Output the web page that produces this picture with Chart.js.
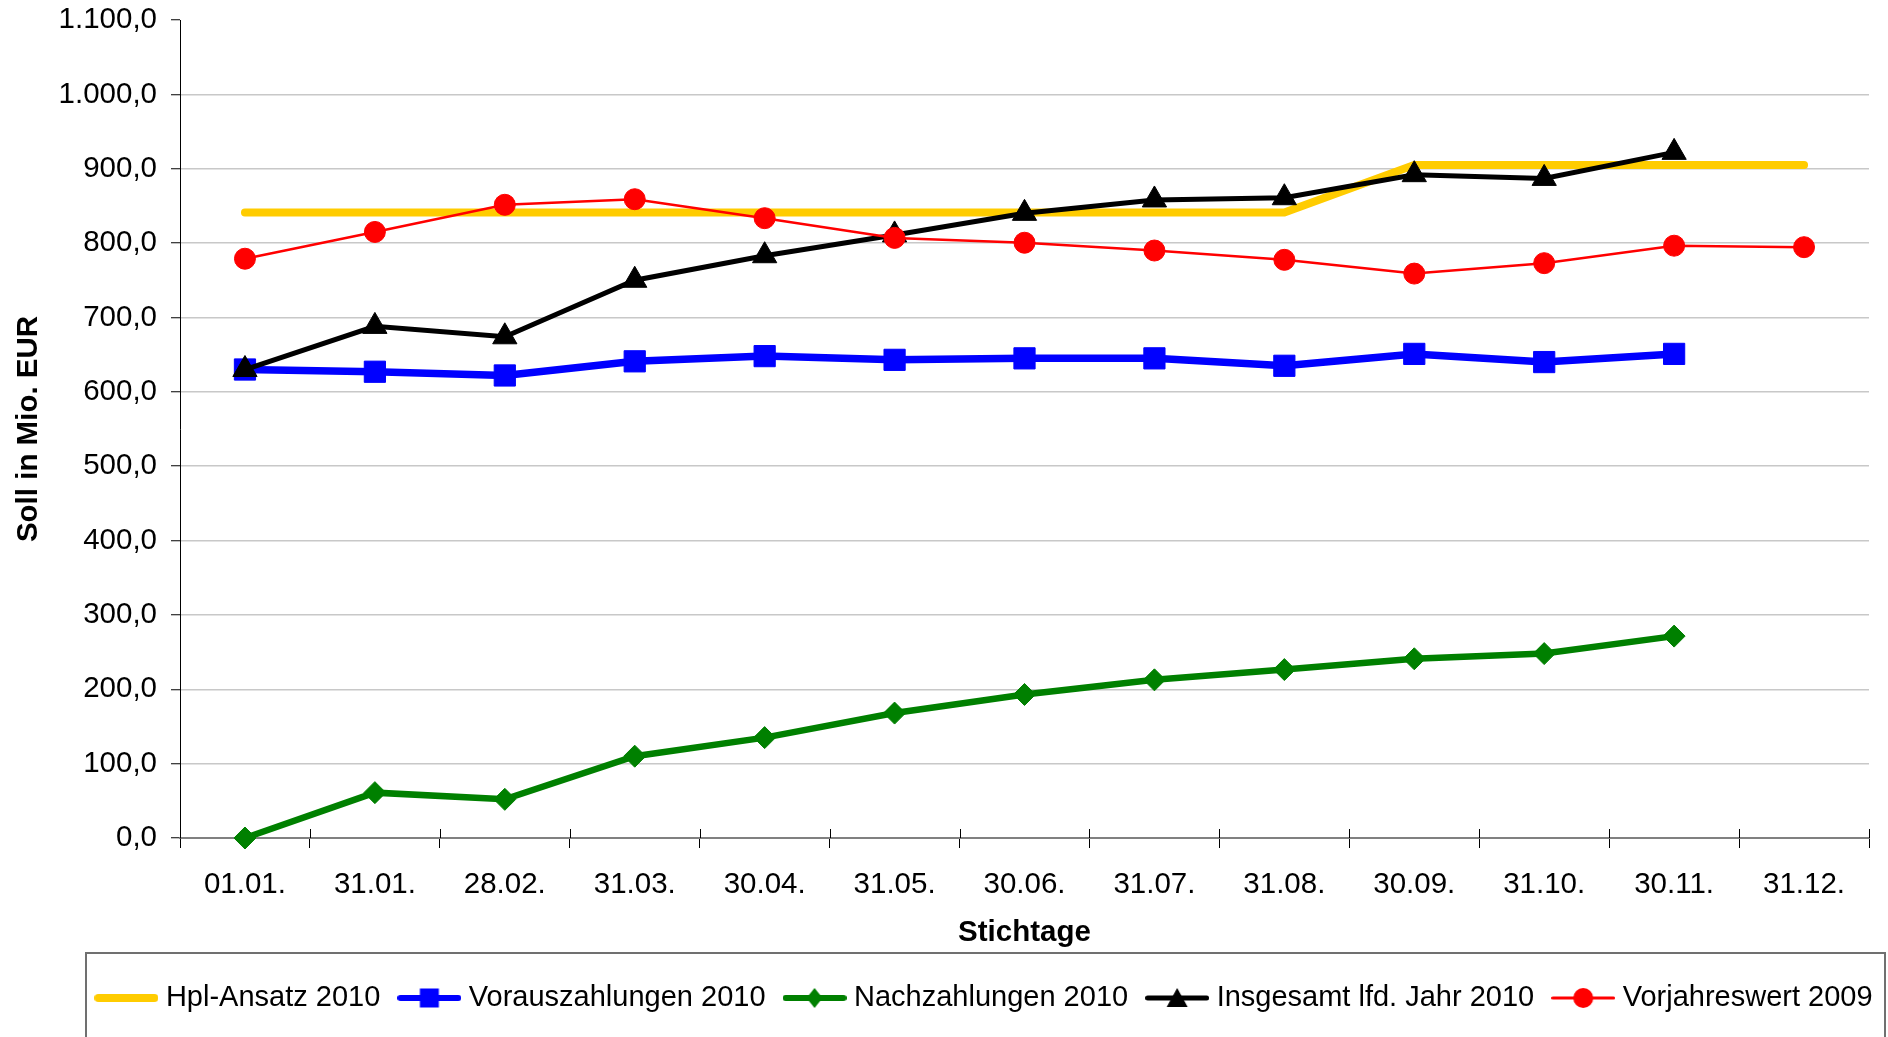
<!DOCTYPE html>
<html>
<head>
<meta charset="utf-8">
<script src="https://cdn.jsdelivr.net/npm/chart.js@4.4.1/dist/chart.umd.min.js"></script>
<style>
  html, body { margin: 0; padding: 0; background: #fff; }
  #wrap { width: 1888px; height: 1037px; position: relative; }
</style>
</head>
<body>
<div id="wrap"><canvas id="soll-chart"></canvas></div>
<script>
// Stichtage (x axis)
const stichtage = ['01.01.', '31.01.', '28.02.', '31.03.', '30.04.', '31.05.', '30.06.',
                   '31.07.', '31.08.', '30.09.', '31.10.', '30.11.', '31.12.'];

// Soll in Mio. EUR
const hplAnsatz       = [841, 841, 841, 841, 841, 841, 841, 841, 841, 905, 905, 905, 905];
const vorauszahlungen = [630, 627, 622, 641, 648, 643, 645, 645, 635, 651, 640, 651, null];
const nachzahlungen   = [0, 61, 52, 110, 135, 168, 193, 212.7, 226.5, 241, 248, 271.5, null];
const insgesamt       = [630, 688, 674, 750, 783, 811, 840, 858, 861, 892, 887, 922, null];
const vorjahreswert   = [779, 815, 851.5, 859, 833.5, 807, 800.5, 790, 777.5, 759, 773, 796.5, 794.5];

const yMin = 0, yMax = 1100, yStep = 100;

function deNum(v) {
  const parts = v.toFixed(1).split('.');
  return parts[0].replace(/\B(?=(\d{3})+(?!\d))/g, '.') + ',' + parts[1];
}

// legend symbol: short line with the marker in the middle (Excel style)
function makeSymbol(color, lw, marker) {
  const c = document.createElement('canvas');
  c.width = 64; c.height = 26;
  const g = c.getContext('2d');
  const cy = 13, cx = 32;
  g.strokeStyle = color; g.fillStyle = color;
  g.lineWidth = lw; g.lineCap = 'round';
  g.beginPath(); g.moveTo(lw / 2, cy); g.lineTo(64 - lw / 2, cy); g.stroke();
  g.beginPath();
  if (marker === 'rect') {
    g.rect(cx - 9.5, cy - 9.5, 19, 19);
  } else if (marker === 'diamond') {
    g.moveTo(cx, cy - 10); g.lineTo(cx + 8, cy); g.lineTo(cx, cy + 10); g.lineTo(cx - 8, cy);
  } else if (marker === 'triangle') {
    g.moveTo(cx, cy - 10); g.lineTo(cx + 10.5, cy + 9); g.lineTo(cx - 10.5, cy + 9);
  } else if (marker === 'circle') {
    g.arc(cx, cy, 10, 0, Math.PI * 2);
  }
  g.closePath();
  if (marker) g.fill();
  return c;
}

const legendSymbols = [
  makeSymbol('#ffcc00', 8, null),
  makeSymbol('#0000ff', 6, 'rect'),
  makeSymbol('#008000', 6, 'diamond'),
  makeSymbol('#000000', 5, 'triangle'),
  makeSymbol('#ff0000', 3, 'circle')
];

// legend frame spans x 86..1885; items are centred in it
const frameLeft = 86, frameRight = 1885;

const extras = {
  id: 'extras',
  afterLayout(chart) {
    const lg = chart.legend;
    // wide box around the frame centre, so the single row never wraps
    lg.left = 0; lg.right = frameLeft + frameRight + 3; lg.width = lg.right;
  },
  beforeDatasetsDraw(chart) {
    const xs = chart.scales.x, c = chart.ctx;
    const half = (xs.getPixelForValue(1) - xs.getPixelForValue(0)) / 2;
    c.save();
    c.strokeStyle = '#000'; c.lineWidth = 1;
    for (let i = 0; i <= stichtage.length; i++) {
      const x = Math.round(xs.getPixelForValue(i) - half) + 0.5;
      c.beginPath(); c.moveTo(x, xs.top - 9); c.lineTo(x, xs.top); c.stroke();
    }
    c.restore();
  },
  afterDraw(chart) {
    const lg = chart.legend, c = chart.ctx;
    c.save();
    c.strokeStyle = '#707070'; c.lineWidth = 2;
    c.strokeRect(frameLeft, lg.top - 6.5, frameRight - frameLeft, 200);
    c.restore();
  }
};

Chart.defaults.font.family = "'Liberation Sans', Arial, sans-serif";
Chart.defaults.font.size = 29.5;
Chart.defaults.color = '#000';

const ctx = document.getElementById('soll-chart').getContext('2d');

new Chart(ctx, {
  type: 'line',
  data: {
    labels: stichtage,
    datasets: [
      {
        label: 'Hpl-Ansatz 2010',
        data: hplAnsatz,
        borderColor: '#ffcc00',
        borderWidth: 8,
        borderCapStyle: 'round',
        pointRadius: 0,
        order: 5
      },
      {
        label: 'Vorauszahlungen 2010',
        data: vorauszahlungen,
        borderColor: '#0000ff',
        backgroundColor: '#0000ff',
        borderWidth: 7.5,
        pointStyle: 'rect',
        pointRadius: 15,
        pointBorderWidth: 1,
        order: 4
      },
      {
        label: 'Nachzahlungen 2010',
        data: nachzahlungen,
        borderColor: '#008000',
        backgroundColor: '#008000',
        borderWidth: 6.5,
        pointStyle: 'rectRot',
        pointRadius: 11,
        pointBorderWidth: 1,
        order: 3
      },
      {
        label: 'Insgesamt lfd. Jahr 2010',
        data: insgesamt,
        borderColor: '#000000',
        backgroundColor: '#000000',
        borderWidth: 5,
        pointStyle: 'triangle',
        pointRadius: 14,
        pointBorderWidth: 1,
        order: 2
      },
      {
        label: 'Vorjahreswert 2009',
        data: vorjahreswert,
        borderColor: '#ff0000',
        backgroundColor: '#ff0000',
        borderWidth: 2.5,
        pointStyle: 'circle',
        pointRadius: 10.5,
        pointBorderWidth: 1,
        order: 1
      }
    ]
  },
  options: {
    responsive: true,
    maintainAspectRatio: false,
    animation: false,
    events: [],
    clip: false,
    layout: { padding: { left: 0, top: 20, right: 19, bottom: 14.5 } },
    elements: { line: { tension: 0 } },
    scales: {
      x: {
        offset: true,
        afterFit: s => { s.height = 121.5; },
        grid: {
          offset: true,
          drawOnChartArea: false,
          color: '#000',
          lineWidth: 1,
          tickLength: 10
        },
        border: { color: '#808080', width: 2 },
        ticks: { padding: 19, maxRotation: 0, autoSkip: false },
        title: {
          display: true,
          text: 'Stichtage',
          font: { weight: 'bold' },
          padding: { top: 0, bottom: 9 }
        }
      },
      y: {
        min: yMin,
        max: yMax,
        afterFit: s => { s.width = 180; s.paddingTop = 0; s.paddingBottom = 0; },
        grid: {
          color: c => (c.tick.value === yMax || c.tick.value === yMin) ? 'rgba(0,0,0,0)' : '#c8c8c8',
          lineWidth: 1.5,
          tickColor: '#000',
          tickWidth: 1,
          tickLength: 9
        },
        border: { color: '#000', width: 1 },
        ticks: {
          stepSize: yStep,
          padding: 14,
          callback: v => deNum(v)
        },
        title: {
          display: true,
          text: 'Soll in Mio. EUR',
          font: { weight: 'bold' },
          padding: { top: 11, bottom: 0 }
        }
      }
    },
    plugins: {
      tooltip: { enabled: false },
      legend: {
        position: 'bottom',
        align: 'center',
        labels: {
          usePointStyle: true,
          pointStyleWidth: 50,
          padding: 24,
          color: '#000',
          font: { size: 29 },
          generateLabels: chart => chart.data.datasets.map((ds, i) => ({
            text: ds.label,
            pointStyle: legendSymbols[i],
            fillStyle: ds.borderColor,
            strokeStyle: ds.borderColor,
            lineWidth: 0,
            hidden: false,
            datasetIndex: i
          }))
        }
      }
    }
  },
  plugins: [extras]
});
</script>
</body>
</html>
